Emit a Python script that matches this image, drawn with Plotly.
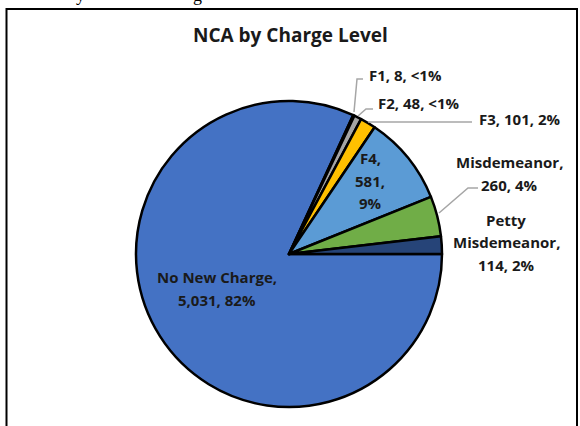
import plotly.graph_objects as go

# data
categories = ['No New Charge', 'F1', 'F2', 'F3', 'F4', 'Misdemeanor', 'Petty Misdemeanor']
counts = [5031, 8, 48, 101, 581, 260, 114]
pct_labels = ['82%', '<1%', '<1%', '2%', '9%', '4%', '2%']
colors = ['#4472C4', '#ED7D31', '#A5A5A5', '#FFC000', '#5B9BD5', '#70AD47', '#264478']

W, H = 580, 426
FONT = 'Open Sans'
LINE_GAP = 22.5


def px(x):
    return x / W


def py(y):
    return 1 - y / H


fig = go.Figure()

fig.add_trace(go.Pie(
    labels=categories,
    values=counts,
    sort=False,
    direction='clockwise',
    rotation=90,
    textinfo='none',
    hoverinfo='label+value+percent',
    marker=dict(colors=colors, line=dict(color='black', width=2.5)),
    domain=dict(x=[px(136), px(442)], y=[py(407), py(101)]),
    showlegend=False,
))

# data labels: (category index, line templates, centre x, first line y)
label_spots = [
    (0, ['{c},', '{v}, {p}'], 217, 277),
    (1, ['{c}, {v}, {p}'], 405, 75),
    (2, ['{c}, {v}, {p}'], 419, 103),
    (3, ['{c}, {v}, {p}'], 519, 119),
    (4, ['{c},', '{v},', '{p}'], 370, 158),
    (5, ['{c},', '{v}, {p}'], 509, 162),
    (6, ['Petty', 'Misdemeanor,', '{v}, {p}'], 506, 220),
]

annotations = []
for i, lines, x, y in label_spots:
    for k, tpl in enumerate(lines):
        annotations.append(dict(
            x=px(x), y=py(y + k * LINE_GAP), xref='paper', yref='paper',
            xanchor='center', yanchor='middle',
            text=tpl.format(c=categories[i], v=f'{counts[i]:,}', p=pct_labels[i]),
            showarrow=False,
            font=dict(family=FONT, size=15, color='#1a1a1a', weight='bold'),
        ))

annotations.append(dict(
    x=px(290), y=py(35), xref='paper', yref='paper',
    xanchor='center', yanchor='middle',
    text='NCA by Charge Level', showarrow=False,
    font=dict(family=FONT, size=19, color='#1a1a1a', weight='bold'),
))

# cut-off caption from the page above the chart
for ch, x in [('y', 80), ('g', 197)]:
    annotations.append(dict(
        x=px(x), y=py(7), xref='paper', yref='paper',
        xanchor='center', yanchor='bottom',
        text=ch, showarrow=False,
        font=dict(family='Liberation Serif', size=18, color='black'),
    ))

leader_paths = [
    [(363, 79), (357, 79), (354, 112)],
    [(373, 109), (366, 109), (358, 116)],
    [(472, 122), (368, 122)],
    [(478, 188), (468, 188), (439, 213)],
]
shapes = []
for pts in leader_paths:
    path = 'M ' + ' L '.join(f'{px(x)} {py(y)}' for x, y in pts)
    shapes.append(dict(type='path', xref='paper', yref='paper', path=path,
                       line=dict(color='#A6A6A6', width=1.5)))

# chart frame
shapes.append(dict(type='rect', xref='paper', yref='paper',
                   x0=px(6.5), x1=px(577), y0=-0.05, y1=py(9),
                   line=dict(color='black', width=2)))

fig.update_layout(
    width=W, height=H,
    margin=dict(l=0, r=0, t=0, b=0),
    paper_bgcolor='white',
    plot_bgcolor='white',
    annotations=annotations,
    shapes=shapes,
)

fig.write_html('out.html', config={'displayModeBar': False},
               post_script="document.body.style.margin = '0';")
